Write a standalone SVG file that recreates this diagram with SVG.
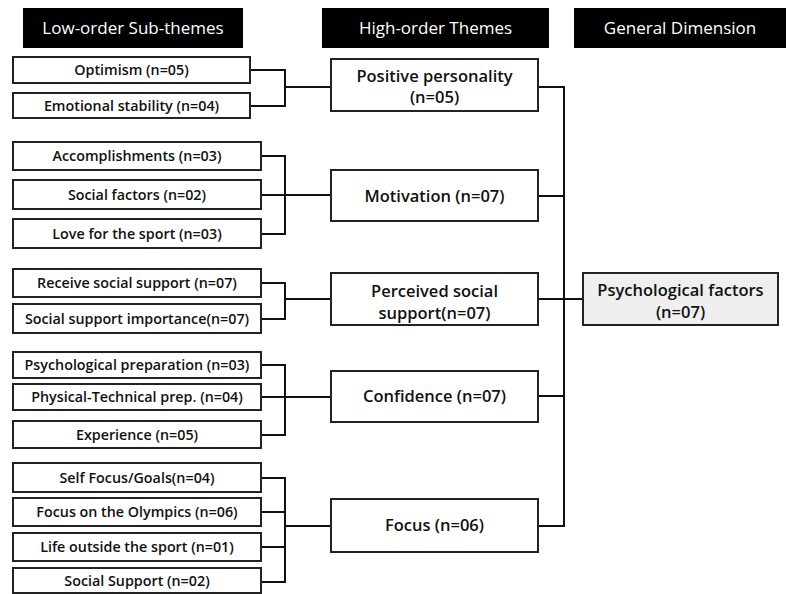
<svg xmlns="http://www.w3.org/2000/svg" width="786" height="594" viewBox="0 0 786 594">
<style>
text{font-family:"Open Sans","Liberation Sans",sans-serif;fill:#111;text-anchor:middle}
.hdr rect{fill:#000}
.hdr text{fill:#fff;font-size:17px}
.sub rect{fill:#fff;stroke:#222;stroke-width:2}
.sub text{font-size:14.3px;font-weight:600}
.th rect{fill:#fff;stroke:#222;stroke-width:2}
.th text{font-size:16.5px;font-weight:600}
.gen rect{fill:#efefef;stroke:#222;stroke-width:2}
.gen text{font-size:16.5px;font-weight:600}
.conn path{fill:none;stroke:#111;stroke-width:2}
</style>
<rect width="786" height="594" fill="#fff"/>
<g id="h1" class="hdr"><rect x="23" y="8" width="220" height="40"/><text x="133" y="34">Low-order Sub-themes</text></g>
<g id="h2" class="hdr"><rect x="322" y="8" width="227" height="40"/><text x="435.5" y="34">High-order Themes</text></g>
<g id="h3" class="hdr"><rect x="574" y="8" width="212" height="40"/><text x="680" y="34">General Dimension</text></g>

<g class="conn">
<path d="M250,70 H285 V106 H250 M285,87 H331"/>
<path d="M261,156 H285 V234 H261 M261,195 H331"/>
<path d="M261,283 H285 V319 H261 M285,299 H331"/>
<path d="M261,365 H285 V435 H261 M261,397 H331"/>
<path d="M261,478 H285 V582 H261 M261,512 H285 M261,547 H285 M285,526 H331"/>
<path d="M538,87 H564 V526 H538 M538,196 H564 M538,299 H583 M538,396 H564"/>
</g>

<g id="s1" class="sub"><rect x="13" y="57" width="237" height="26"/><text x="131.5" y="75">Optimism (n=05)</text></g>
<g id="s2" class="sub"><rect x="13" y="93" width="237" height="25"/><text x="131.5" y="110.5">Emotional stability (n=04)</text></g>
<g id="s3" class="sub"><rect x="13" y="142" width="248" height="28"/><text x="137" y="161">Accomplishments (n=03)</text></g>
<g id="s4" class="sub"><rect x="13" y="180" width="248" height="29"/><text x="137" y="199.5">Social factors (n=02)</text></g>
<g id="s5" class="sub"><rect x="13" y="219" width="248" height="29"/><text x="137" y="238.5">Love for the sport (n=03)</text></g>
<g id="s6" class="sub"><rect x="13" y="269" width="248" height="28"/><text x="137" y="288">Receive social support (n=07)</text></g>
<g id="s7" class="sub"><rect x="13" y="304" width="248" height="29"/><text x="137" y="323.5">Social support importance(n=07)</text></g>
<g id="s8" class="sub"><rect x="13" y="352" width="248" height="26"/><text x="137" y="370">Psychological preparation (n=03)</text></g>
<g id="s9" class="sub"><rect x="13" y="384" width="248" height="26"/><text x="137" y="402">Physical-Technical prep. (n=04)</text></g>
<g id="s10" class="sub"><rect x="13" y="421" width="248" height="27"/><text x="137" y="439.5">Experience (n=05)</text></g>
<g id="s11" class="sub"><rect x="13" y="463" width="248" height="29"/><text x="137" y="482.5">Self Focus/Goals(n=04)</text></g>
<g id="s12" class="sub"><rect x="13" y="498" width="248" height="28"/><text x="137" y="517">Focus on the Olympics (n=06)</text></g>
<g id="s13" class="sub"><rect x="13" y="533" width="248" height="28"/><text x="137" y="552">Life outside the sport (n=01)</text></g>
<g id="s14" class="sub"><rect x="13" y="568" width="248" height="25"/><text x="137" y="586">Social Support (n=02)</text></g>

<g id="t1" class="th"><rect x="331" y="59" width="207" height="52"/><text x="434.5" y="82">Positive personality</text><text x="434.5" y="103">(n=05)</text></g>
<g id="t2" class="th"><rect x="331" y="170" width="207" height="51"/><text x="434.5" y="202">Motivation (n=07)</text></g>
<g id="t3" class="th"><rect x="331" y="273" width="207" height="52"/><text x="434.5" y="297">Perceived social</text><text x="434.5" y="319">support(n=07)</text></g>
<g id="t4" class="th"><rect x="331" y="371" width="207" height="51"/><text x="434.5" y="402">Confidence (n=07)</text></g>
<g id="t5" class="th"><rect x="331" y="499" width="207" height="53"/><text x="434.5" y="531">Focus (n=06)</text></g>

<g id="g1" class="gen"><rect x="583" y="273" width="195" height="52"/><text x="680.5" y="296">Psychological factors</text><text x="680.5" y="318">(n=07)</text></g>
</svg>
